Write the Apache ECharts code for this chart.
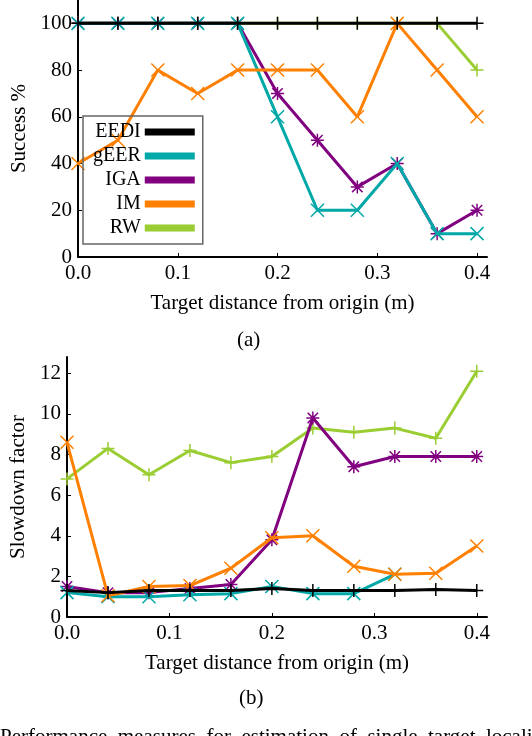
<!DOCTYPE html>
<html>
<head>
<meta charset="utf-8">
<script src="https://cdn.jsdelivr.net/npm/echarts@6/dist/echarts.min.js"></script>
<style>
html, body { margin: 0; padding: 0; background: #fff; }
#main { width: 532px; height: 736px; }
</style>
</head>
<body>
<div id="main"></div>
<script>
// target distances (m)
var distances = [0, 0.04, 0.08, 0.12, 0.16, 0.2, 0.24, 0.28, 0.32, 0.36, 0.4];
var methods = ['EEDI', 'gEER', 'IGA', 'IM', 'RW'];

// (a) success %
var eediSuccess = [100, 100, 100, 100, 100, 100, 100, 100, 100, 100, 100];
var geerSuccess = [100, 100, 100, 100, 100, 60, 20, 20, 40, 10, 10];
var igaSuccess  = [100, 100, 100, 100, 100, 70, 50, 30, 40, 10, 20];
var imSuccess   = [40, 50, 80, 70, 80, 80, 80, 60, 100, 80, 60];
var rwSuccess   = [100, 100, 100, 100, 100, 100, 100, 100, 100, 100, 80];

// (b) slowdown factor
var eediSlow = [1.3, 1.2, 1.3, 1.3, 1.3, 1.4, 1.3, 1.3, 1.3, 1.35, 1.3];
var geerSlow = [1.2, 1.0, 1.0, 1.1, 1.15, 1.5, 1.15, 1.15, 2.1, null, null];
var igaSlow  = [1.5, 1.2, 1.2, 1.4, 1.6, 3.8, 9.8, 7.4, 7.9, 7.9, 7.9];
var imSlow   = [8.6, 1.05, 1.5, 1.55, 2.4, 3.9, 4.0, 2.5, 2.1, 2.15, 3.5];
var rwSlow   = [6.8, 8.3, 7.0, 8.2, 7.6, 7.9, 9.3, 9.1, 9.3, 8.8, 12.1];

var colors = { EEDI: '#000000', gEER: '#00a8a8', IGA: '#800080', IM: '#ff8000', RW: '#9acd32' };
var plus  = 'path://M5,0L5,10M0,5L10,5';
var cross = 'path://M0,0L10,10M10,0L0,10';
var star  = 'path://M5,0L5,10M0,5L10,5M1,1L9,9M9,1L1,9';
var marks = { EEDI: plus, gEER: cross, IGA: star, IM: cross, RW: plus };

var serif = 'Liberation Serif';

function pairs(vals) {
    var res = [];
    for (var i = 0; i < distances.length; i++) {
        res.push([distances[i], vals[i]]);
    }
    return res;
}

function mkSeries(name, vals, idx, z) {
    return {
        name: name,
        type: 'line',
        xAxisIndex: idx,
        yAxisIndex: idx,
        data: pairs(vals),
        z: z,
        symbol: marks[name],
        symbolSize: 13,
        lineStyle: { color: colors[name], width: 3 },
        itemStyle: { color: colors[name], borderColor: colors[name], borderWidth: 1.5 }
    };
}

function xAxisOf(idx) {
    return {
        type: 'value',
        gridIndex: idx,
        min: 0,
        max: 0.41,
        interval: 0.1,
        name: 'Target distance from origin (m)',
        nameLocation: 'middle',
        nameGap: 36,
        nameTextStyle: { fontFamily: serif, fontSize: 21, color: '#000' },
        axisLine: { lineStyle: { color: '#000', width: 2 } },
        axisTick: { inside: true, length: 4, lineStyle: { color: '#000' } },
        axisLabel: {
            fontFamily: serif, fontSize: 21, color: '#000', margin: 6,
            showMaxLabel: false,
            formatter: function (v) { return v.toFixed(1); }
        },
        splitLine: { show: false }
    };
}

var chart = echarts.init(document.getElementById('main'));
var option = {
    animation: false,
    backgroundColor: '#fff',
    grid: [
        { left: 78, right: 45, top: 0, height: 257 },
        { left: 67, right: 45, top: 357, height: 260 }
    ],
    legend: {
        data: methods,
        orient: 'vertical',
        left: 83,
        top: 116,
        z: 20,
        align: 'right',
        icon: 'rect',
        itemWidth: 48,
        itemHeight: 5,
        itemGap: 4,
        padding: [6, 8, 6, 10],
        borderColor: '#666',
        borderWidth: 1.5,
        backgroundColor: 'transparent',
        textStyle: { fontFamily: serif, fontSize: 20, color: '#000' }
    },
    xAxis: [xAxisOf(0), xAxisOf(1)],
    yAxis: [
        {
            type: 'value', gridIndex: 0, min: 0, max: 110, interval: 20,
            name: 'Success %', nameLocation: 'middle', nameGap: 48,
            nameTextStyle: { fontFamily: serif, fontSize: 21, color: '#000' },
            axisLine: { show: true, lineStyle: { color: '#000', width: 2 } },
            axisTick: { show: true, inside: true, length: 4, lineStyle: { color: '#000' } },
            axisLabel: { fontFamily: serif, fontSize: 21, color: '#000', margin: 6, showMaxLabel: false },
            splitLine: { show: false }
        },
        {
            type: 'value', gridIndex: 1, min: 0, max: 12.8, interval: 2,
            name: 'Slowdown factor', nameLocation: 'middle', nameGap: 38,
            nameTextStyle: { fontFamily: serif, fontSize: 21, color: '#000' },
            axisLine: { show: true, lineStyle: { color: '#000', width: 2 } },
            axisTick: { show: true, inside: true, length: 4, lineStyle: { color: '#000' } },
            axisLabel: { fontFamily: serif, fontSize: 21, color: '#000', margin: 6, showMaxLabel: false },
            splitLine: { show: false }
        }
    ],
    graphic: [
        { type: 'text', left: 237, top: 330, style: { text: '(a)', font: '21px "Liberation Serif"', fill: '#000' } },
        { type: 'text', left: 239, top: 688, style: { text: '(b)', font: '21px "Liberation Serif"', fill: '#000' } },
        { type: 'text', left: 0, top: 727, style: { text: 'Performance  measures  for  estimation  of  single  target  localization', font: '21px "Liberation Serif"', fill: '#000' } }
    ],
    series: [
        mkSeries('RW', rwSuccess, 0, 2),
        mkSeries('IGA', igaSuccess, 0, 3),
        mkSeries('gEER', geerSuccess, 0, 4),
        mkSeries('IM', imSuccess, 0, 5),
        mkSeries('EEDI', eediSuccess, 0, 6),
        mkSeries('RW', rwSlow, 1, 2),
        mkSeries('IGA', igaSlow, 1, 3),
        mkSeries('gEER', geerSlow, 1, 4),
        mkSeries('IM', imSlow, 1, 5),
        mkSeries('EEDI', eediSlow, 1, 6)
    ]
};
chart.setOption(option);
</script>
</body>
</html>
